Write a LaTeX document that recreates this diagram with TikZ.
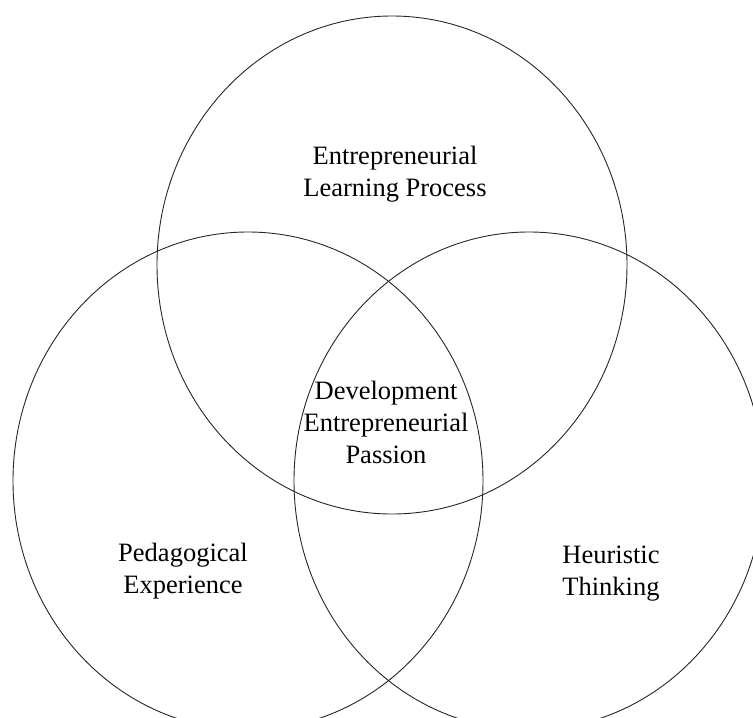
\documentclass[tikz,border=0pt]{standalone}
\usepackage{fontspec}
\setmainfont{Liberation Serif}

\begin{document}
\begin{tikzpicture}[x=1pt,y=-1pt,
	set/.style={draw=black!85, line width=0.9},
	setlabel/.style={align=center, inner sep=0pt, font=\fontsize{26.5}{32}\selectfont}]
	\useasboundingbox (0,0) rectangle (753,718);
	\clip (0,0) rectangle (753,718);

	%Shape: Ellipse [id:top]
	\draw [set] (392,265) ellipse [x radius=235, y radius=249];
	%Shape: Ellipse [id:left]
	\draw [set] (248,481) ellipse [x radius=235, y radius=249];
	%Shape: Ellipse [id:right]
	\draw [set] (529,481) ellipse [x radius=235, y radius=249];

	% Text Node
	\node [setlabel] (learning) at (395,174) {Entrepreneurial\\Learning Process};
	% Text Node
	\node [setlabel] (passion) at (386,422) {Development\\Entrepreneurial\\Passion};
	% Text Node
	\node [setlabel] (pedagogy) at (183,571) {Pedagogical\\Experience};
	% Text Node
	\node [setlabel] (heuristic) at (611,574) {Heuristic\\Thinking};
\end{tikzpicture}
\end{document}
